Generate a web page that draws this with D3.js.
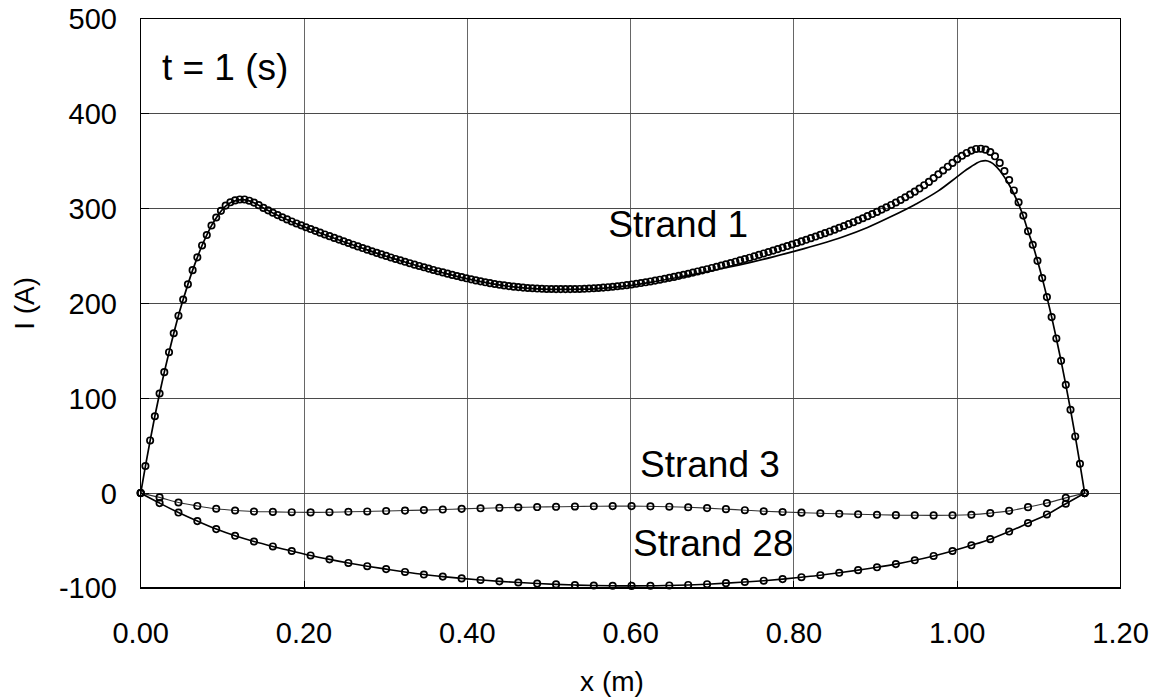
<!DOCTYPE html>
<html>
  <head>
    <meta charset="utf-8">
    <script src="https://d3js.org/d3.v7.min.js"></script>
    <title>Strand currents, t = 1 s</title>
    <style>
      body { margin: 0; background: #fff; }
      text { font-family: "Liberation Sans", Arial, sans-serif; fill: #000; }
    </style>
  </head>
  <body>
    <div id="chart"></div>
  </body>
  <script>

    // DATA

    // strand 1, markers (201 points along the strand, dx = L/200)
    const strandLength = 1.156;
    const s1Markers = [
      0, 28.5, 55.5, 81, 105, 127.5, 148.5, 168.5, 187, 204,
      220, 235, 248.5, 261, 272, 282, 290.5, 297.5, 303, 306.5,
      308.5, 309.5, 309.5, 308.2, 306.2, 303.5, 300.6, 298, 295.5, 293,
      290.7, 288.5, 286.3, 284.2, 282.2, 280.2, 278.3, 276.4, 274.5, 272.6,
      270.8, 269, 267.2, 265.4, 263.6, 261.8, 260, 258.3, 256.6, 254.9,
      253.2, 251.6, 250, 248.4, 246.8, 245.3, 243.8, 242.3, 240.8, 239.4,
      238, 236.6, 235.2, 233.9, 232.6, 231.3, 230, 228.8, 227.6, 226.4,
      225.3, 224.2, 223.2, 222.2, 221.3, 220.4, 219.6, 218.9, 218.2, 217.6,
      217.1, 216.6, 216.2, 215.9, 215.6, 215.4, 215.2, 215.1, 215, 215,
      215, 215, 215.1, 215.2, 215.4, 215.6, 215.9, 216.2, 216.6, 217,
      217.5, 218, 218.6, 219.2, 219.9, 220.6, 221.4, 222.2, 223.1, 224,
      224.9, 225.9, 226.9, 227.9, 229, 230.1, 231.2, 232.4, 233.6, 234.8,
      236, 237.3, 238.6, 239.9, 241.2, 242.5, 243.9, 245.3, 246.7, 248.1,
      249.6, 251.1, 252.6, 254.1, 255.6, 257.2, 258.8, 260.4, 262, 263.6,
      265.3, 267, 268.7, 270.4, 272.2, 274, 275.8, 277.7, 279.6, 281.5,
      283.5, 285.5, 287.6, 289.7, 291.9, 294.1, 296.4, 298.8, 301.2, 303.7,
      306.3, 309, 311.8, 314.7, 317.7, 321, 324.5, 328, 332, 336,
      340, 344, 348, 352, 355.5, 358.5, 361, 362.7, 363, 362,
      359.5, 355, 348, 339.5, 330, 319, 306.5, 292.5, 276, 261.7,
      244.8, 226.6, 206.6, 185.5, 163, 139.4, 114.1, 87.8, 59.7, 30.9,
      0
    ];

    // strand 1, calculated line
    const s1LineX = [
      0, 0.0058, 0.0116, 0.0173, 0.0231, 0.0289, 0.0347, 0.0405, 0.0462, 0.052,
      0.0578, 0.0636, 0.0694, 0.0751, 0.0809, 0.0867, 0.0925, 0.0983, 0.104, 0.1098,
      0.1156, 0.1214, 0.1272, 0.1329, 0.1387, 0.1445, 0.1503, 0.1618, 0.1734, 0.185,
      0.2023, 0.2254, 0.2485, 0.2717, 0.2948, 0.3179, 0.341, 0.3699, 0.3988, 0.4277,
      0.4566, 0.4855, 0.5144, 0.5433, 0.5722, 0.6011, 0.63, 0.6589, 0.6878, 0.7167,
      0.7456, 0.7745, 0.8034, 0.8323, 0.8612, 0.8901, 0.919, 0.9479, 0.9768, 1.0,
      1.0115, 1.0231, 1.0289, 1.0346, 1.0404, 1.0462, 1.052, 1.0577, 1.0635, 1.0693,
      1.0751, 1.0809, 1.0866, 1.0924, 1.0982, 1.104, 1.1098, 1.1156, 1.1213, 1.1271,
      1.1329, 1.1387, 1.1445, 1.1502, 1.156
    ];
    const s1LineY = [
      0, 28.5, 55.5, 81, 105, 127.5, 148.5, 168.5, 187, 204,
      220, 235, 248.5, 261, 272, 282, 290, 297, 302.5, 306,
      308, 309, 309, 308, 306, 303.3, 300.5, 295.3, 290.5, 286,
      280, 272.3, 265, 258, 251.2, 245, 239, 232.3, 226, 221,
      217.3, 215.3, 214.7, 215, 216.4, 219, 223, 227.5, 232.5, 237.5,
      243, 249, 255.5, 262.5, 270.5, 280, 291.5, 304, 318.5, 333.5,
      341, 347.5, 349.8, 350.5, 349, 345.5, 340, 333, 325, 315.5,
      304.5, 291.5, 276, 261.7, 244.8, 226.6, 206.6, 185.5, 163, 139.4,
      114.1, 87.8, 59.7, 30.9, 0
    ];

    // strands 3 and 28 (51 points along the strand, dx = L/50)
    const s3Values = [
      0, -4.5, -9.9, -13.5, -16.5, -18.3, -19.4, -19.8, -20.1, -20.3,
      -20.1, -19.7, -19.3, -18.9, -18.4, -17.9, -17.3, -16.6, -16, -15.5,
      -15, -14.7, -14.4, -14.1, -13.9, -13.7, -13.7, -14, -14.3, -14.9,
      -15.8, -16.9, -18, -19.1, -19.9, -20.6, -21.2, -21.8, -22.3, -22.8,
      -23.2, -23.4, -23.5, -23.4, -22.8, -21.1, -18.7, -14.8, -10.5, -5,
      0
    ];
    const s28Values = [
      0, -10.5, -20.5, -29.5, -37.9, -45, -51, -56.2, -61, -65.7,
      -69.8, -73.6, -77, -80.1, -83.1, -85.8, -88, -89.9, -91.5, -93,
      -94.2, -95.3, -96.2, -96.9, -97.4, -97.7, -97.8, -97.7, -97.3, -96.8,
      -96, -94.9, -93.7, -92.3, -90.6, -88.6, -86.5, -84, -81.2, -78.2,
      -74.8, -70.8, -66.2, -61, -55, -48.5, -40.5, -31.6, -22.5, -11.2,
      0
    ];

    const xTicks = [0, 0.2, 0.4, 0.6, 0.8, 1.0, 1.2];
    const yTicks = [-100, 0, 100, 200, 300, 400, 500];

    // annotations, anchored in data units
    const notes = [
      {text: 't = 1 (s)', x: 0.026, y: 435.6},
      {text: 'Strand 1', x: 0.5726, y: 270.4},
      {text: 'Strand 3', x: 0.6114, y: 17.5},
      {text: 'Strand 28', x: 0.6029, y: -66.8}
    ];

    // CONSTANTS

    const W = 1156, H = 700;
    const margin = {top: 18.7, left: 140.7, bottom: 112, right: 35.4};

    var svg = d3.select('#chart')
      .append('svg')
      .attr('width', W)
      .attr('height', H);

    var xscale = d3.scaleLinear()
      .domain([0, 1.2])
      .range([margin.left, W - margin.right]);

    var yscale = d3.scaleLinear()
      .domain([-100, 500])
      .range([H - margin.bottom, margin.top]);

    var x0 = xscale(0), x1 = xscale(1.2), y0 = yscale(-100), y1 = yscale(500);

    // grid
    var grid = svg.append('g').attr('shape-rendering', 'crispEdges');
    grid.selectAll('line.gx')
      .data(xTicks.slice(1, -1))
      .enter().append('line')
      .attr('class', 'gx')
      .attr('x1', d => xscale(d)).attr('x2', d => xscale(d))
      .attr('y1', y1).attr('y2', y0)
      .attr('stroke', '#666').attr('stroke-width', 1);
    grid.selectAll('line.gy')
      .data(yTicks.slice(1, -1))
      .enter().append('line')
      .attr('class', 'gy')
      .attr('x1', x0).attr('x2', x1)
      .attr('y1', d => yscale(d)).attr('y2', d => yscale(d))
      .attr('stroke', '#4a4a4a').attr('stroke-width', 1);

    // inside tick marks
    grid.selectAll('line.tx')
      .data(xTicks)
      .enter().append('line')
      .attr('x1', d => xscale(d)).attr('x2', d => xscale(d))
      .attr('y1', y0).attr('y2', y0 - 7)
      .attr('stroke', '#000');
    grid.selectAll('line.ty')
      .data(yTicks)
      .enter().append('line')
      .attr('x1', x0).attr('x2', x0 + 8)
      .attr('y1', d => yscale(d)).attr('y2', d => yscale(d))
      .attr('stroke', '#000');

    // plot frame
    grid.append('rect')
      .attr('x', x0).attr('y', y1)
      .attr('width', x1 - x0).attr('height', y0 - y1)
      .attr('fill', 'none').attr('stroke', '#000').attr('stroke-width', 1.2);

    // tick labels
    svg.selectAll('text.xl')
      .data(xTicks)
      .enter().append('text')
      .attr('x', d => xscale(d))
      .attr('y', y0 + 55)
      .attr('text-anchor', 'middle')
      .attr('font-size', 29)
      .text(d => d3.format('.2f')(d));

    svg.selectAll('text.yl')
      .data(yTicks)
      .enter().append('text')
      .attr('x', 117)
      .attr('y', d => yscale(d))
      .attr('dy', '0.36em')
      .attr('text-anchor', 'end')
      .attr('font-size', 29)
      .text(d => d);

    // axis titles
    svg.append('text')
      .attr('transform', 'translate(34,' + ((y0 + y1) / 2) + ') rotate(-90)')
      .attr('text-anchor', 'middle')
      .attr('font-size', 28)
      .text('I (A)');

    svg.append('text')
      .attr('x', 612)
      .attr('y', 691)
      .attr('text-anchor', 'middle')
      .attr('font-size', 28)
      .text('x (m)');

    // series
    var s1Pts = s1Markers.map((v, i) => [i * strandLength / 200, v]);
    var s1Line = s1LineX.map((x, i) => [x, s1LineY[i]]);
    var s3Pts = s3Values.map((v, i) => [i * strandLength / 50, v]);
    var s28Pts = s28Values.map((v, i) => [i * strandLength / 50, v]);

    var line = d3.line()
      .curve(d3.curveMonotoneX)
      .x(d => xscale(d[0]))
      .y(d => yscale(d[1]));

    var series = [
      {line: s3Pts, marks: s3Pts, lw: 1.1, lc: '#333'},
      {line: s28Pts, marks: s28Pts, lw: 1.6, lc: '#000'},
      {line: s1Line, marks: s1Pts, lw: 1.7, lc: '#000'}
    ];

    series.forEach(function(s) {
      svg.append('path')
        .datum(s.line)
        .attr('d', line)
        .attr('fill', 'none')
        .attr('stroke', s.lc)
        .attr('stroke-width', s.lw);
    });

    series.forEach(function(s) {
      svg.append('g')
        .selectAll('circle')
        .data(s.marks)
        .enter().append('circle')
        .attr('cx', d => xscale(d[0]))
        .attr('cy', d => yscale(d[1]))
        .attr('r', 3.2)
        .attr('fill', 'none')
        .attr('stroke', '#000')
        .attr('stroke-width', 1.7);
    });

    // annotations
    svg.selectAll('text.note')
      .data(notes)
      .enter().append('text')
      .attr('x', d => xscale(d.x))
      .attr('y', d => yscale(d.y))
      .attr('font-size', 37)
      .text(d => d.text);

  </script>
</html>
